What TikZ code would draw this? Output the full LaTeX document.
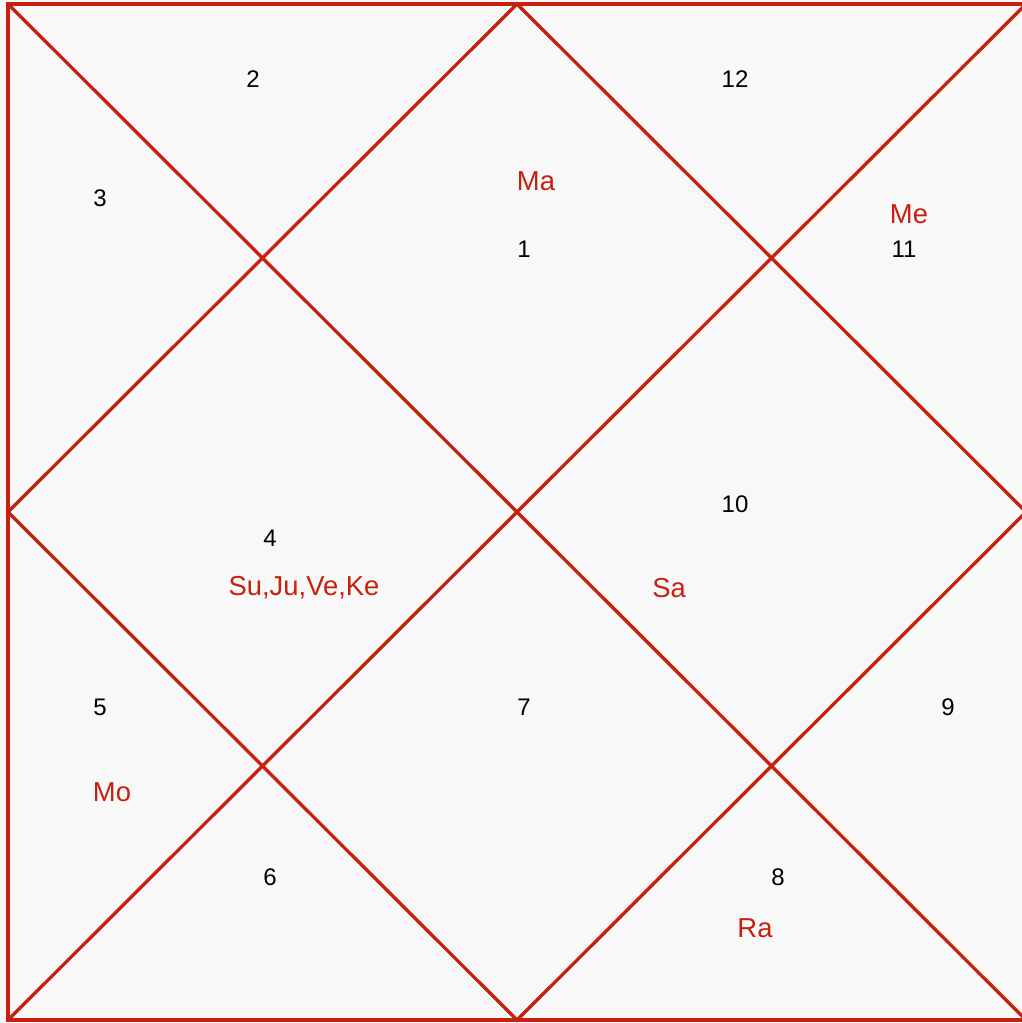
\documentclass[tikz,border=0pt]{standalone}
\usepackage{xcolor}
\usepackage{fontspec}
\setmainfont{Liberation Sans}
\usepackage{tikz}
\usetikzlibrary{positioning}
\definecolor{chartred}{RGB}{200,32,14}
\definecolor{chartbg}{RGB}{248,248,248}

\begin{document}
\begin{tikzpicture}[x=1pt, y=-1pt,
  house/.style={font=\fontsize{24}{28}\selectfont, text=black, inner sep=0pt},
  planet/.style={font=\fontsize{27.4}{30}\selectfont, text=chartred, inner sep=0pt},
  grid/.style={draw=chartred, line width=3.3pt},
]
  \fill[chartbg] (0,0) rectangle (1022,1023);
  \useasboundingbox (0,0) rectangle (1022,1023);

  % corners and midpoints of the chart
  \coordinate (nw) at (8,4);
  \coordinate (ne) at (1026,4);
  \coordinate (se) at (1026,1020);
  \coordinate (sw) at (8,1020);
  \coordinate (n) at (517,4);
  \coordinate (e) at (1026,512);
  \coordinate (s) at (517,1020);
  \coordinate (w) at (8,512);

  \draw[grid] (nw) -- (ne) -- (se) -- (sw) -- cycle;
  \draw[grid] (nw) -- (se);
  \draw[grid] (ne) -- (sw);
  \draw[grid] (n) -- (e) -- (s) -- (w) -- cycle;

  % house numbers
  \node[house] (h1)  at (524,249) {1};
  \node[house] (h2)  at (253,79)  {2};
  \node[house] (h3)  at (100,198) {3};
  \node[house] (h4)  at (270,538) {4};
  \node[house] (h5)  at (100,707) {5};
  \node[house] (h6)  at (270,877) {6};
  \node[house] (h7)  at (524,707) {7};
  \node[house] (h8)  at (778,877) {8};
  \node[house] (h9)  at (948,707) {9};
  \node[house] (h10) at (735,504) {10};
  \node[house] (h11) at (904,249) {11};
  \node[house] (h12) at (735,79)  {12};

  % planets
  \node[planet] (ma) at (536,181) {Ma};
  \node[planet] (me) at (909,214) {Me};
  \node[planet] (su) at (304,588) {Su,Ju,Ve,Ke};
  \node[planet] (sa) at (669,588) {Sa};
  \node[planet] (mo) at (112,792) {Mo};
  \node[planet] (ra) at (755,928) {Ra};
\end{tikzpicture}
\end{document}
